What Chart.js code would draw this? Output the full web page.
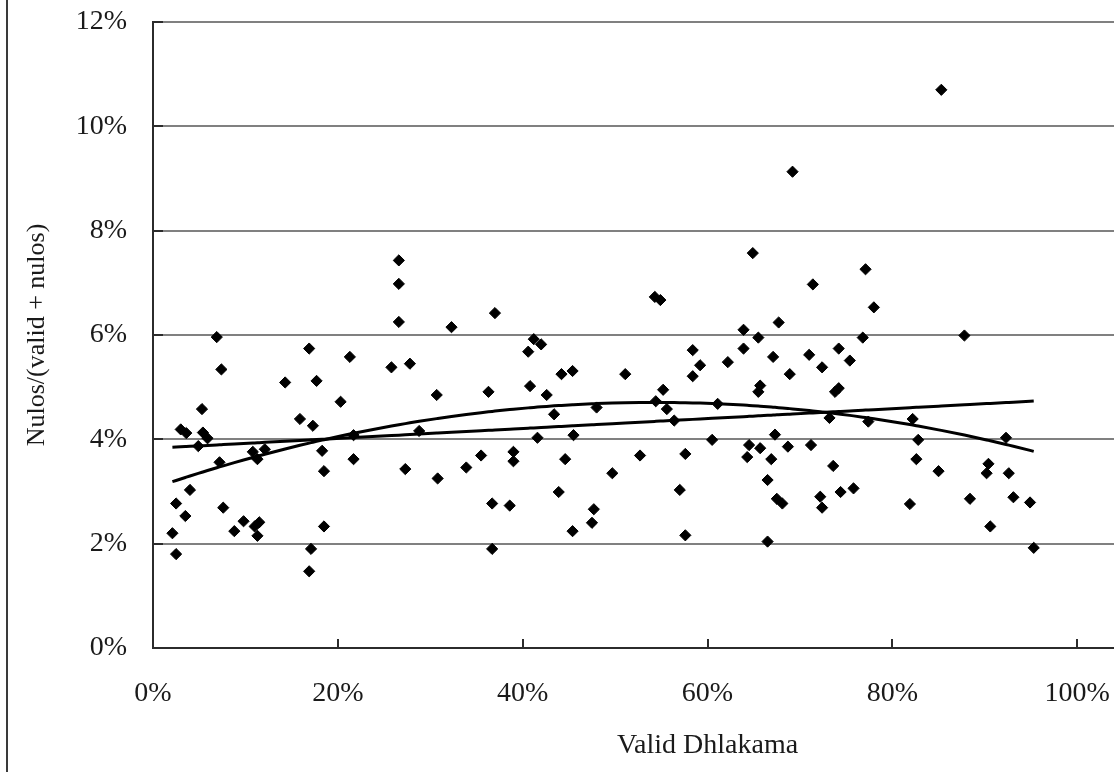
<!DOCTYPE html>
<html>
<head>
<meta charset="utf-8">
<script src="https://cdn.jsdelivr.net/npm/chart.js@4/dist/chart.umd.min.js"></script>
<style>
  html, body { margin: 0; padding: 0; background: #fff; }
  #wrap { position: relative; width: 1114px; height: 772px; overflow: hidden; background: #fff; }
  #frame { position: absolute; left: 6px; top: 0; width: 2px; height: 772px; background: #3a3a3a; }
  canvas { position: absolute; left: 0; top: 0; }
</style>
</head>
<body>
<div id="wrap">
  <canvas id="c" width="1280" height="772"></canvas>
  <div id="frame"></div>
</div>
<script>
// Valid Dhlakama share (%) for each district
const validDhlakama = [
  2.1, 2.5, 2.5, 3.0, 3.6, 3.5, 4.0, 4.9, 5.3, 5.4,
  5.9, 6.9, 7.2, 7.4, 7.6, 8.8, 9.8, 10.8, 11.0, 11.3,
  11.3, 11.5, 12.1, 14.3, 15.9, 16.9, 16.9, 17.1, 17.3, 17.7,
  18.3, 18.5, 18.5, 20.3, 21.3, 21.7, 21.7, 25.8, 26.6, 26.6,
  26.6, 27.3, 27.8, 28.8, 30.7, 30.8, 32.3, 33.9, 35.5, 36.3,
  36.7, 36.7, 37.0, 38.6, 39.0, 39.0, 40.6, 40.8, 41.2, 41.6,
  42.0, 42.6, 43.4, 43.9, 44.2, 44.6, 45.4, 45.5, 45.4, 47.5,
  47.7, 48.0, 49.7, 51.1, 52.7, 54.3, 54.4, 54.9, 55.2, 55.6,
  56.4, 57.0, 57.6, 57.6, 58.4, 58.4, 59.2, 60.5, 61.1, 62.2,
  63.9, 63.9, 64.3, 64.5, 64.9, 65.5, 65.7, 65.5, 65.7, 66.5,
  66.5, 66.9, 67.1, 67.3, 67.7, 67.5, 68.1, 68.7, 68.9, 69.2,
  71.0, 71.2, 71.4, 72.2, 72.4, 72.4, 73.2, 73.6, 73.8, 74.2,
  74.2, 74.4, 75.4, 75.8, 76.8, 77.1, 77.4, 78.0, 81.9, 82.2,
  82.6, 82.8, 85.0, 85.3, 87.8, 88.4, 90.2, 90.4, 90.6, 92.3,
  92.6, 93.1, 94.9, 95.3
];
// Nulos/(valid + nulos) (%) for each district
const nulosShare = [
  2.20, 1.80, 2.77, 4.19, 4.12, 2.53, 3.03, 3.87, 4.58, 4.13,
  4.02, 5.96, 3.56, 5.34, 2.69, 2.24, 2.43, 3.76, 2.33, 2.15,
  3.62, 2.41, 3.81, 5.09, 4.39, 5.74, 1.47, 1.90, 4.26, 5.12,
  3.78, 3.39, 2.33, 4.72, 5.58, 4.08, 3.62, 5.38, 7.43, 6.98,
  6.25, 3.43, 5.45, 4.16, 4.85, 3.25, 6.15, 3.46, 3.69, 4.91,
  2.77, 1.90, 6.42, 2.73, 3.76, 3.58, 5.68, 5.02, 5.92, 4.03,
  5.82, 4.85, 4.48, 2.99, 5.25, 3.62, 5.31, 4.08, 2.24, 2.40,
  2.66, 4.61, 3.35, 5.25, 3.69, 6.73, 4.73, 6.67, 4.95, 4.58,
  4.36, 3.03, 3.72, 2.16, 5.71, 5.21, 5.42, 3.99, 4.68, 5.48,
  6.10, 5.74, 3.66, 3.89, 7.57, 5.95, 5.03, 4.91, 3.83, 3.22,
  2.04, 3.62, 5.58, 4.09, 6.24, 2.86, 2.77, 3.86, 5.25, 9.13,
  5.62, 3.89, 6.97, 2.90, 5.38, 2.69, 4.41, 3.49, 4.91, 4.98,
  5.74, 2.99, 5.51, 3.06, 5.95, 7.26, 4.34, 6.53, 2.76, 4.39,
  3.62, 3.99, 3.39, 10.70, 5.99, 2.86, 3.35, 3.53, 2.33, 4.03,
  3.35, 2.89, 2.79, 1.92
];
const xTickValues = [0, 20, 40, 60, 80, 100];
const yTickValues = [0, 2, 4, 6, 8, 10, 12];
const xTitle = 'Valid Dhlakama';
const yTitle = 'Nulos/(valid + nulos)';

const points = validDhlakama.map((x, i) => ({ x: x, y: nulosShare[i] }));

// Trendlines (least squares on the data, like the spreadsheet trendlines)
function linearFit(xs, ys) {
  const n = xs.length;
  let sx = 0, sy = 0, sxx = 0, sxy = 0;
  for (let i = 0; i < n; i++) { sx += xs[i]; sy += ys[i]; sxx += xs[i]*xs[i]; sxy += xs[i]*ys[i]; }
  const b = (n*sxy - sx*sy) / (n*sxx - sx*sx);
  const a = (sy - b*sx) / n;
  return x => a + b*x;
}
function quadFit(xs, ys) {
  const S = [0,0,0,0,0], T = [0,0,0];
  for (let i = 0; i < xs.length; i++) {
    let p = 1;
    for (let k = 0; k < 5; k++) { S[k] += p; if (k < 3) T[k] += p*ys[i]; p *= xs[i]; }
  }
  const M = [[S[0],S[1],S[2],T[0]],[S[1],S[2],S[3],T[1]],[S[2],S[3],S[4],T[2]]];
  for (let c = 0; c < 3; c++) {
    for (let r = c+1; r < 3; r++) {
      const f = M[r][c]/M[c][c];
      for (let k = c; k < 4; k++) M[r][k] -= f*M[c][k];
    }
  }
  const coef = [0,0,0];
  for (let r = 2; r >= 0; r--) {
    let s = M[r][3];
    for (let k = r+1; k < 3; k++) s -= M[r][k]*coef[k];
    coef[r] = s/M[r][r];
  }
  return x => coef[0] + coef[1]*x + coef[2]*x*x;
}
const sortedX = [...new Set(validDhlakama)].sort((a, b) => a - b);
const lin = linearFit(validDhlakama, nulosShare);
const quad = quadFit(validDhlakama, nulosShare);
const linPts = sortedX.map(x => ({ x: x, y: lin(x) }));
const quadPts = sortedX.map(x => ({ x: x, y: quad(x) }));

const FONT = "'Liberation Serif', 'Times New Roman', serif";

const insideTicks = {
  id: 'insideTicks',
  afterDatasetsDraw(chart) {
    const ctx = chart.ctx;
    const xs = chart.scales.x, ys = chart.scales.y;
    const area = chart.chartArea;
    ctx.save();
    ctx.strokeStyle = '#2b2b2b';
    ctx.lineWidth = 2;
    ctx.beginPath();
    yTickValues.forEach(v => {
      const py = Math.round(ys.getPixelForValue(v));
      ctx.moveTo(area.left, py); ctx.lineTo(area.left + 10, py);
    });
    xTickValues.forEach(v => {
      if (v === 0) return;
      const px = Math.round(xs.getPixelForValue(v));
      ctx.moveTo(px, area.bottom); ctx.lineTo(px, area.bottom - 9);
    });
    ctx.stroke();
    ctx.restore();
  }
};

new Chart(document.getElementById('c'), {
  data: {
    datasets: [
      {
        type: 'line', data: linPts, order: 0,
        borderColor: '#000', borderWidth: 3, pointRadius: 0, fill: false, tension: 0
      },
      {
        type: 'line', data: quadPts, order: 0,
        borderColor: '#000', borderWidth: 3, pointRadius: 0, fill: false, tension: 0
      },
      {
        type: 'scatter', data: points, order: 1,
        pointStyle: 'rectRot', pointRadius: 5.6,
        backgroundColor: '#000', borderColor: '#000', borderWidth: 1
      }
    ]
  },
  options: {
    responsive: false,
    animation: false,
    events: [],
    layout: { padding: { left: 0, top: 22, right: 18, bottom: 0 } },
    plugins: { legend: { display: false }, tooltip: { enabled: false } },
    scales: {
      x: {
        type: 'linear', min: 0, max: 120,
        afterBuildTicks: s => { s.ticks = xTickValues.map(v => ({ value: v })); },
        afterFit: s => { s.height = 124; s.paddingLeft = 0; s.paddingRight = 0; },
        grid: { display: false, drawTicks: false },
        border: { color: '#2b2b2b', width: 2 },
        ticks: {
          padding: 29, color: '#1a1a1a', maxRotation: 0, autoSkip: false,
          font: { family: FONT, size: 28 },
          callback: v => v + '%'
        },
        title: {
          display: true, text: xTitle, color: '#1a1a1a',
          font: { family: FONT, size: 28 }, padding: { top: 0, bottom: 10 }
        }
      },
      y: {
        type: 'linear', min: 0, max: 12,
        afterBuildTicks: s => { s.ticks = yTickValues.map(v => ({ value: v })); },
        afterFit: s => { s.width = 153; s.paddingTop = 0; s.paddingBottom = 0; },
        grid: { color: '#808080', lineWidth: 2, drawTicks: false },
        border: { color: '#2b2b2b', width: 2 },
        ticks: {
          padding: 26, color: '#1a1a1a',
          font: { family: FONT, size: 28 },
          callback: v => v + '%'
        },
        title: {
          display: true, text: yTitle, color: '#1a1a1a',
          font: { family: FONT, size: 26 }, padding: { top: 22, bottom: 0 }
        }
      }
    }
  },
  plugins: [insideTicks]
});
</script>
</body>
</html>
